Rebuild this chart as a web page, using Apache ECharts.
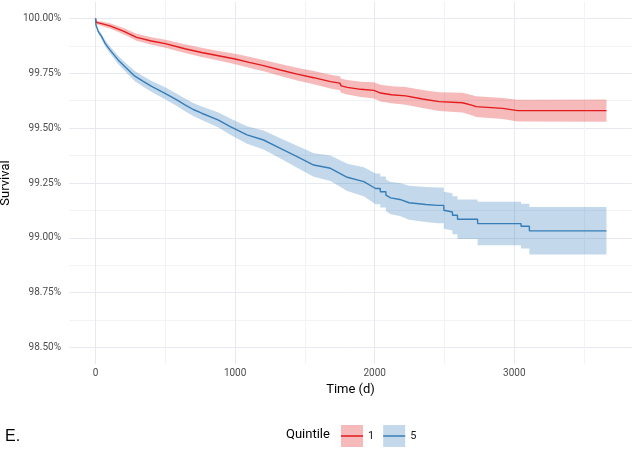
<!DOCTYPE html>
<html>
<head>
<meta charset="utf-8">
<script src="https://cdn.jsdelivr.net/npm/echarts@6/dist/echarts.min.js"></script>
<style>html,body{margin:0;padding:0;background:#fff;}#c{width:636px;height:450px;}</style>
</head>
<body>
<div id="c"></div>
<script>
// ---- data ----
const q1Time  = [0, 5, 50, 103, 200, 294, 400, 500, 640, 760, 880, 1000, 1100, 1204, 1324, 1444, 1563, 1683, 1750, 1760, 1803, 1900, 1994, 2042, 2120, 2222, 2342, 2461, 2629, 2700, 2725, 2917, 3024, 3660];
const q1Surv  = [100, 99.982, 99.975, 99.966, 99.942, 99.914, 99.897, 99.885, 99.862, 99.845, 99.83, 99.815, 99.80, 99.785, 99.765, 99.746, 99.73, 99.712, 99.705, 99.693, 99.686, 99.677, 99.672, 99.66, 99.652, 99.647, 99.633, 99.621, 99.616, 99.604, 99.598, 99.59, 99.58, 99.58];
const q1Upper = [100, 99.99, 99.985, 99.978, 99.956, 99.93, 99.914, 99.903, 99.882, 99.866, 99.852, 99.839, 99.825, 99.811, 99.792, 99.775, 99.76, 99.743, 99.737, 99.725, 99.719, 99.712, 99.709, 99.698, 99.691, 99.687, 99.674, 99.664, 99.661, 99.65, 99.645, 99.638, 99.63, 99.631];
const q1Lower = [100, 99.974, 99.965, 99.954, 99.928, 99.898, 99.88, 99.867, 99.842, 99.824, 99.808, 99.791, 99.775, 99.759, 99.738, 99.717, 99.70, 99.681, 99.673, 99.661, 99.653, 99.642, 99.635, 99.622, 99.613, 99.607, 99.592, 99.578, 99.571, 99.558, 99.551, 99.542, 99.53, 99.529];

const q5Time  = [0, 3, 20, 43, 70, 103, 162, 222, 282, 342, 402, 498, 582, 641, 700, 761, 881, 965, 1085, 1204, 1324, 1444, 1563, 1683, 1803, 1922, 2006, 2040, 2040, 2080, 2080, 2114, 2180, 2246, 2366, 2450, 2495, 2495, 2557, 2557, 2593, 2593, 2737, 2737, 3048, 3048, 3108, 3108, 3660];
const q5Surv  = [100, 99.97, 99.94, 99.918, 99.885, 99.857, 99.811, 99.773, 99.737, 99.713, 99.69, 99.659, 99.629, 99.606, 99.585, 99.568, 99.537, 99.507, 99.469, 99.446, 99.408, 99.37, 99.332, 99.317, 99.276, 99.256, 99.225, 99.225, 99.21, 99.21, 99.195, 99.182, 99.175, 99.16, 99.152, 99.148, 99.148, 99.126, 99.118, 99.103, 99.103, 99.085, 99.085, 99.065, 99.065, 99.053, 99.053, 99.032, 99.032];
const q5Upper = [100, 99.976, 99.95, 99.93, 99.899, 99.873, 99.83, 99.794, 99.76, 99.737, 99.715, 99.686, 99.657, 99.635, 99.615, 99.599, 99.571, 99.544, 99.509, 99.489, 99.454, 99.42, 99.386, 99.375, 99.338, 99.322, 99.293, 99.293, 99.28, 99.28, 99.266, 99.255, 99.25, 99.237, 99.232, 99.23, 99.23, 99.21, 99.203, 99.19, 99.19, 99.175, 99.175, 99.164, 99.164, 99.155, 99.155, 99.141, 99.141];
const q5Lower = [100, 99.964, 99.93, 99.906, 99.871, 99.841, 99.792, 99.752, 99.714, 99.689, 99.665, 99.632, 99.601, 99.577, 99.555, 99.537, 99.503, 99.47, 99.429, 99.403, 99.362, 99.32, 99.278, 99.259, 99.214, 99.19, 99.153, 99.153, 99.138, 99.138, 99.122, 99.108, 99.1, 99.082, 99.072, 99.066, 99.066, 99.042, 99.033, 99.016, 99.016, 98.995, 98.995, 98.966, 98.966, 98.951, 98.951, 98.924, 98.924];

const groupNames = ['1', '5'];
const xMajorTicks = [0, 1000, 2000, 3000];
const xMinorTicks = [500, 1500, 2500, 3500];
const yMajorTicks = [98.5, 98.75, 99, 99.25, 99.5, 99.75, 100];
const yMinorTicks = [98.625, 98.875, 99.125, 99.375, 99.625, 99.875];

// ---- styling ----
const RED = '#E41A1C', BLUE = '#377EB8';
const RED_FILL = 'rgba(228,26,28,0.3)', BLUE_FILL = 'rgba(55,126,184,0.3)';
const FONT = 'Roboto';
const X_MIN = -190, X_MAX = 3843, Y_MIN = 98.425, Y_MAX = 100.075;

function pairs(t, v) { return t.map((x, i) => [x, v[i]]); }

// confidence ribbon: one polygon through the library's coordinate system
function bandSeries(time, lo, hi, fill) {
  const rows = time.map((t, i) => [t, lo[i], hi[i]]);
  return {
    type: 'custom', silent: true, z: 1,
    data: rows,
    encode: { x: 0, y: [1, 2] },
    renderItem: function (params, api) {
      if (params.dataIndex !== 0) return null;
      const pts = [];
      for (let i = 0; i < rows.length; i++) pts.push(api.coord([rows[i][0], rows[i][2]]));
      for (let i = rows.length - 1; i >= 0; i--) pts.push(api.coord([rows[i][0], rows[i][1]]));
      return { type: 'polygon', shape: { points: pts }, style: { fill: fill, stroke: null } };
    }
  };
}

const linePath = 'path://M0,0L0.01,0L0,0.01Z M0,10.2L22,10.2L22,11.8L0,11.8Z M22,22L21.99,22L22,21.99Z';

const chart = echarts.init(document.getElementById('c'), null, { renderer: 'canvas' });
chart.setOption({
  animation: false,
  backgroundColor: '#ffffff',
  grid: { left: 69, right: 4, top: 2, bottom: 86, containLabel: false, outerBoundsMode: 'none' },
  xAxis: [
    { type: 'value', min: X_MIN, max: X_MAX,
      name: 'Time (d)', nameLocation: 'middle', nameGap: 19,
      nameTextStyle: { fontFamily: FONT, fontSize: 13, color: '#000' },
      axisLine: { show: false }, axisTick: { show: false, customValues: xMajorTicks },
      axisLabel: { customValues: xMajorTicks, fontFamily: FONT, fontSize: 10, color: '#4d4d4d', margin: 4,
        formatter: v => String(v) },
      splitLine: { show: true, lineStyle: { color: '#e6eaf0', width: 1 } } },
    { type: 'value', min: X_MIN, max: X_MAX, position: 'bottom',
      axisLine: { show: false }, axisTick: { show: false, customValues: xMinorTicks },
      axisLabel: { show: false, customValues: xMinorTicks },
      splitLine: { show: true, lineStyle: { color: '#f1f3f7', width: 1 } } }
  ],
  yAxis: [
    { type: 'value', min: Y_MIN, max: Y_MAX,
      name: 'Survival', nameLocation: 'middle', nameGap: 52, nameRotate: 90,
      nameTextStyle: { fontFamily: FONT, fontSize: 13, color: '#000' },
      axisLine: { show: false }, axisTick: { show: false, customValues: yMajorTicks },
      axisLabel: { customValues: yMajorTicks, fontFamily: FONT, fontSize: 10, color: '#4d4d4d', margin: 8,
        formatter: v => v.toFixed(2) + '%' },
      splitLine: { show: true, lineStyle: { color: '#e6eaf0', width: 1 } } },
    { type: 'value', min: Y_MIN, max: Y_MAX, position: 'left',
      axisLine: { show: false }, axisTick: { show: false, customValues: yMinorTicks },
      axisLabel: { show: false, customValues: yMinorTicks },
      splitLine: { show: true, lineStyle: { color: '#f1f3f7', width: 1 } } }
  ],
  legend: [
    { left: 341, top: 425, padding: 0, itemWidth: 22, itemHeight: 22, itemGap: 9,
      selectedMode: false,
      textStyle: { fontFamily: FONT, fontSize: 11, color: '#1a1a1a' },
      data: [
        { name: groupNames[0], icon: 'rect', itemStyle: { color: RED_FILL, borderWidth: 0 } },
        { name: groupNames[1], icon: 'rect', itemStyle: { color: BLUE_FILL, borderWidth: 0 } }
      ] },
    { left: 341, top: 425, padding: 0, itemWidth: 22, itemHeight: 22, itemGap: 9, z: 5,
      selectedMode: false,
      textStyle: { fontFamily: FONT, fontSize: 11, color: 'rgba(0,0,0,0)' },
      data: [
        { name: groupNames[0], icon: linePath, itemStyle: { color: RED, borderWidth: 0 } },
        { name: groupNames[1], icon: linePath, itemStyle: { color: BLUE, borderWidth: 0 } }
      ] }
  ],
  graphic: [
    { type: 'text', left: 286, top: 428, style: { text: 'Quintile', fontFamily: FONT, fontSize: 13, fill: '#000' } },
    { type: 'text', left: 5, top: 429, style: { text: 'E.', fontFamily: 'Liberation Sans', fontSize: 16, fill: '#000' } }
  ],
  series: [
    bandSeries(q5Time, q5Lower, q5Upper, BLUE_FILL),
    bandSeries(q1Time, q1Lower, q1Upper, RED_FILL),
    { name: groupNames[0], type: 'line', data: pairs(q1Time, q1Surv), symbol: 'none',
      color: RED, lineStyle: { color: RED, width: 1.4 }, z: 3 },
    { name: groupNames[1], type: 'line', data: pairs(q5Time, q5Surv), symbol: 'none',
      color: BLUE, lineStyle: { color: BLUE, width: 1.4 }, z: 3 }
  ]
});
</script>
</body>
</html>
